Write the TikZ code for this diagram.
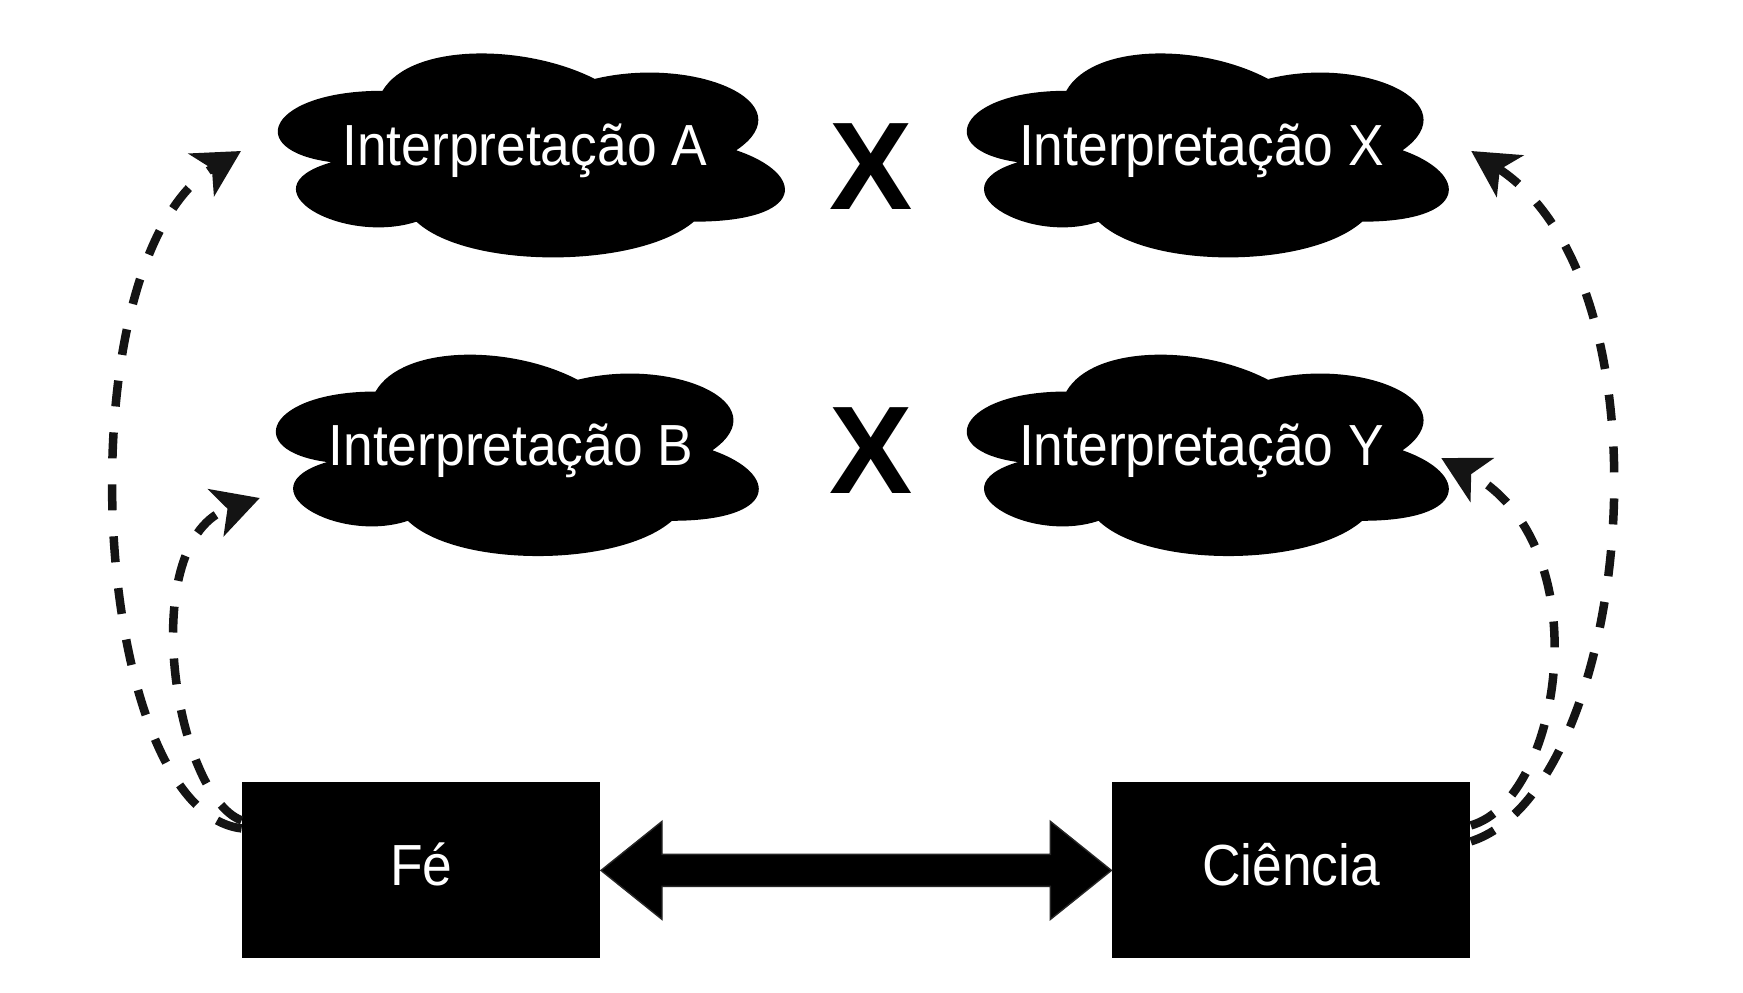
\documentclass[tikz,border=0pt]{standalone}
\usepackage{fontspec}
\setmainfont{Liberation Sans}
\newfontfamily\rotulo[FakeStretch=0.92]{Liberation Sans}
\usepackage{tikz}
\usetikzlibrary{arrows.meta,calc,backgrounds}
\tikzset{
    nuvem/.style 2 args={rectangle, inner sep=0pt, minimum width=#1, minimum height=#2,
        text=white, font=\rotulo\fontsize{16.5}{19}\selectfont},
    caixa/.style={rectangle, fill=black, inner sep=0pt, minimum width=3.58cm, minimum height=1.76cm,
        text height=11.8pt, text depth=3.2pt, text=white, font=\rotulo\fontsize{16.5}{19}\selectfont},
    marca/.style={inner sep=0pt, font=\bfseries\fontsize{35.5}{40}\selectfont},
    ligacao/.style={line width=0.85mm, black!92, dash pattern=on 2.6mm off 2.6mm,
        -{Stealth[length=4.6mm, width=4.9mm, inset=1.2mm]}},
    bloco/.style={fill=black, draw=black!85, line width=0.4pt}
}

\begin{document}
\begin{tikzpicture}[x=0.1mm, y=-0.1mm]
    \node[nuvem={5.66cm}{2.38cm}] (ia) at (524.7,151) {Interpretação A};
    \node[nuvem={5.38cm}{2.38cm}] (ix) at (1201.5,151) {Interpretação X};
    \node[nuvem={5.39cm}{2.35cm}] (ib) at (511,451) {Interpretação B};
    \node[nuvem={5.38cm}{2.35cm}] (iy) at (1201.5,451) {Interpretação Y};
    \node[marca] (x1) at (871.5,166.7) {X};
    \node[marca] (x2) at (871.5,450.2) {X};
    \node[caixa] (fe) at (421.3,870.4) {Fé};
    \node[caixa] (ci) at (1291.1,870.4) {Ciência};
    \begin{pgfonlayer}{background}
        \fill[white] (0,0) rectangle (1743,993);
        \foreach \n/\w/\h in {ia/5.66cm/2.38cm, ix/5.38cm/2.38cm, ib/5.39cm/2.35cm, iy/5.38cm/2.35cm}
            \fill[black, shift={(\n.north west)}, x=\w, y=-\h]
                (0.25,0.25) .. controls (0.05,0.25) and (0,0.5) .. (0.16,0.55)
                .. controls (0,0.66) and (0.18,0.9) .. (0.31,0.8)
                .. controls (0.4,1) and (0.7,1) .. (0.8,0.8)
                .. controls (1,0.8) and (1,0.6) .. (0.875,0.5)
                .. controls (1,0.3) and (0.8,0.1) .. (0.625,0.2)
                .. controls (0.5,0.05) and (0.3,0.05) .. (0.25,0.25) -- cycle;
    \end{pgfonlayer}
    \path[bloco] (fe.east) -- ++(61,-49) -- ++(0,33) -- ($(ci.west)+(-61,-16)$) -- ++(0,-33)
        -- (ci.west) -- ++(-61,49) -- ++(0,-33) -- ($(fe.east)+(61,16)$) -- ++(0,33) -- cycle;
    \draw[ligacao] ([yshift=4.2mm]fe.west) .. controls +(-152,-18) and +(-181,109) .. (ia.west);
    \draw[ligacao] ([yshift=5mm]fe.west) .. controls +(-67,-25) and +(-126,42) .. ([xshift=1.9mm,yshift=-4.7mm]ib.west);
    \draw[ligacao] ([yshift=2.9mm]ci.east) .. controls +(160,-51) and +(209,135) .. (ix.east);
    \draw[ligacao] ([yshift=4.5mm]ci.east) .. controls +(90,-25) and +(162,87) .. ([xshift=-3mm,yshift=-0.7mm]iy.east);
\end{tikzpicture}
\end{document}
